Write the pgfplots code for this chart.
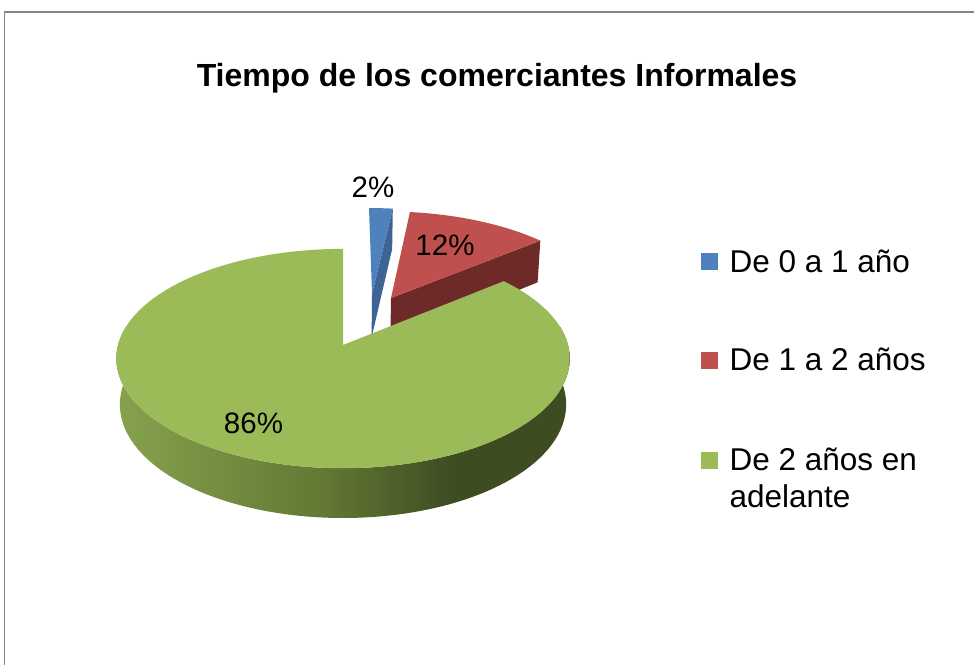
\documentclass[border=0pt]{standalone}
\usepackage{pgfplots}
\pgfplotsset{compat=1.18}
\usepackage{pgfplotstable}
\usepackage{fontspec}
\setmainfont{Liberation Sans}
\definecolor{bluetop}{RGB}{79,129,189}
\definecolor{blueside}{RGB}{62,100,150}
\definecolor{redtop}{RGB}{192,80,77}
\definecolor{redside}{RGB}{110,42,40}
\definecolor{greentop}{RGB}{155,187,89}
\definecolor{gl}{RGB}{134,162,78}
\definecolor{gm}{RGB}{98,120,52}
\definecolor{gd}{RGB}{62,76,34}
\definecolor{framegray}{RGB}{134,134,134}
\pgfdeclarehorizontalshading{greenside}{100bp}{color(0bp)=(gl); color(25bp)=(gl); color(48bp)=(gm); color(62bp)=(gd); color(100bp)=(gd)}

\pgfplotstableread[col sep=comma]{
label,pct
De 0 a 1 año,2
De 1 a 2 años,12
De 2 años en adelante,86
}\piedata

\begin{document}
\begin{tikzpicture}[declare function={
  den(\pv,\ph)=1+0.1236*\pv+0.0677*\ph;
  PX(\pu,\pv,\ph)=343+225*\pu/den(\pv,\ph);
  PY(\pu,\pv,\ph)=345-(108*\pv-197.3*\ph)/den(\pv,\ph);}]
\useasboundingbox (0,0) rectangle (974bp,665bp);
\pgfplotstablegetelem{0}{pct}\of\piedata \let\pA\pgfplotsretval
\pgfplotstablegetelem{1}{pct}\of\piedata \let\pB\pgfplotsretval
\pgfplotstablegetelem{2}{pct}\of\piedata \let\pC\pgfplotsretval
\pgfmathsetmacro\aBs{90-3.6*\pA}
\pgfmathsetmacro\aBe{90}
\pgfmathsetmacro\aRs{\aBs-3.6*\pB}
\pgfmathsetmacro\aRe{\aBs}
\pgfmathsetmacro\aGs{90}
\pgfmathsetmacro\aGe{90+3.6*\pC}
\def\H{0.235}
\def\bu{0.137}\def\bv{0.504}
\def\ru{0.2255}\def\rv{0.46}
% blue tip and cut face
\pgfmathsetmacro\btx{PX(\bu,\bv,0)}\pgfmathsetmacro\bty{PY(\bu,\bv,0)}
\pgfmathsetmacro\bbx{PX(\bu,\bv,\H)}\pgfmathsetmacro\bby{PY(\bu,\bv,\H)}
\pgfmathsetmacro\bcu{\bu+cos(\aBs)}\pgfmathsetmacro\bcv{\bv+sin(\aBs)}
\pgfmathsetmacro\bctx{PX(\bcu,\bcv,0)}\pgfmathsetmacro\bcty{PY(\bcu,\bcv,0)}
\pgfmathsetmacro\bcbx{PX(\bcu,\bcv,\H)}\pgfmathsetmacro\bcby{PY(\bcu,\bcv,\H)}
% red tip and cut face
\pgfmathsetmacro\rtx{PX(\ru,\rv,0)}\pgfmathsetmacro\rty{PY(\ru,\rv,0)}
\pgfmathsetmacro\rbx{PX(\ru,\rv,\H)}\pgfmathsetmacro\rby{PY(\ru,\rv,\H)}
\pgfmathsetmacro\rcu{\ru+cos(\aRs)}\pgfmathsetmacro\rcv{\rv+sin(\aRs)}
\pgfmathsetmacro\rctx{PX(\rcu,\rcv,0)}\pgfmathsetmacro\rcty{PY(\rcu,\rcv,0)}
\pgfmathsetmacro\rcbx{PX(\rcu,\rcv,\H)}\pgfmathsetmacro\rcby{PY(\rcu,\rcv,\H)}
% green tip
\pgfmathsetmacro\gtx{PX(0,0,0)}\pgfmathsetmacro\gty{PY(0,0,0)}
\begin{axis}[at={(0,0)}, anchor=south west, scale only axis,
  width=974bp, height=665bp, xmin=0, xmax=974, ymin=0, ymax=665,
  y dir=reverse, hide axis, clip=false]
% frame
\draw[framegray, line width=1.3bp] (axis cs:4.5,670) -- (axis cs:4.5,12) -- (axis cs:980,12);
% blue slice
\addplot[fill=blueside, draw=none] coordinates {(\btx,\bty) (\bctx,\bcty) (\bcbx,\bcby) (\bbx,\bby)} -- cycle;
\addplot[fill=bluetop, draw=none, domain=\aBs:\aBe, samples=20, variable=\t]
  ({PX(\bu+cos(\t),\bv+sin(\t),0)},{PY(\bu+cos(\t),\bv+sin(\t),0)}) -- (axis cs:\btx,\bty) -- cycle;
% red slice
\addplot[fill=redside, draw=none] coordinates {(\rtx,\rty) (\rctx,\rcty) (\rcbx,\rcby) (\rbx,\rby)} -- cycle;
\addplot[fill=redtop, draw=none, domain=\aRs:\aRe, samples=40, variable=\t]
  ({PX(\ru+cos(\t),\rv+sin(\t),0)},{PY(\ru+cos(\t),\rv+sin(\t),0)}) -- (axis cs:\rtx,\rty) -- cycle;
% green slice: side then top
\addplot[draw=none, shade, shading=greenside, domain=0:2, samples=241, variable=\t]
  ({PX(cos(170+200*(1-abs(1-\t))),sin(170+200*(1-abs(1-\t))),\H*(\t>1))},
   {PY(cos(170+200*(1-abs(1-\t))),sin(170+200*(1-abs(1-\t))),\H*(\t>1))}) -- cycle;
\addplot[fill=greentop, draw=none, domain=\aGs:\aGe, samples=181, variable=\t]
  ({PX(cos(\t),sin(\t),0)},{PY(cos(\t),sin(\t),0)}) -- (axis cs:\gtx,\gty) -- cycle;
% data labels
\node[anchor=base, font=\fontsize{29.5bp}{34bp}\selectfont] at (axis cs:373,197) {2\%};
\node[anchor=base, font=\fontsize{29.5bp}{34bp}\selectfont] at (axis cs:445,255) {12\%};
\node[anchor=base, font=\fontsize{29.5bp}{34bp}\selectfont] at (axis cs:253.5,433) {86\%};
% title
\node[anchor=base, font=\bfseries\fontsize{32bp}{38bp}\selectfont] at (axis cs:497,87) {Tiempo de los comerciantes Informales};
% legend
\addplot[fill=bluetop, draw=none] coordinates {(701,253) (718,253) (718,270) (701,270)} -- cycle;
\addplot[fill=redtop, draw=none] coordinates {(701,352) (718,352) (718,369) (701,369)} -- cycle;
\addplot[fill=greentop, draw=none] coordinates {(701,452) (718,452) (718,469) (701,469)} -- cycle;
\node[anchor=base west, font=\fontsize{31.5bp}{37bp}\selectfont] at (axis cs:726,272) {De 0 a 1 año};
\node[anchor=base west, font=\fontsize{31.5bp}{37bp}\selectfont] at (axis cs:726,370) {De 1 a 2 años};
\node[anchor=base west, font=\fontsize{31.5bp}{37bp}\selectfont] at (axis cs:726,470) {De 2 años en};
\node[anchor=base west, font=\fontsize{31.5bp}{37bp}\selectfont] at (axis cs:726,507) {adelante};
\end{axis}
\end{tikzpicture}
\end{document}
